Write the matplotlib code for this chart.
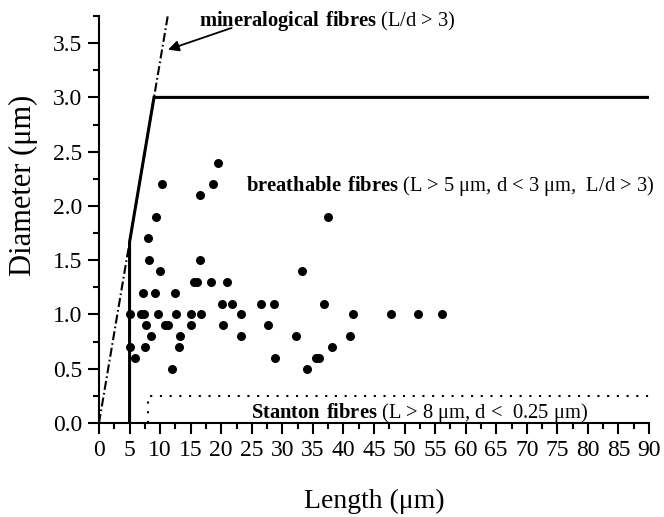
import matplotlib
matplotlib.use("Agg")
import matplotlib.pyplot as plt
import numpy as np

# ---- data ----
length_um = [5.1, 5.1, 5.9, 6.8, 7.3, 7.2, 7.5, 7.7, 8.0, 8.1, 8.5, 9.1, 9.4, 9.7,
             9.9, 10.3, 10.8, 11.3, 12.0, 12.5, 12.6, 13.1, 13.3, 15.0, 15.0, 15.6,
             16.0, 16.5, 16.5, 16.7, 18.4, 18.7, 19.5, 20.2, 20.3, 21.0, 21.8, 23.3,
             23.3, 26.5, 27.6, 28.6, 28.8, 32.2, 33.2, 34.0, 35.5, 36.0, 36.8, 37.5,
             38.2, 41.1, 41.6, 47.8, 52.2, 56.1]
diameter_um = [1.0, 0.7, 0.6, 1.0, 1.0, 1.2, 0.7, 0.9, 1.7, 1.5, 0.8, 1.2, 1.9, 1.0,
               1.4, 2.2, 0.9, 0.9, 0.5, 1.2, 1.0, 0.7, 0.8, 1.0, 0.9, 1.3,
               1.3, 1.5, 2.1, 1.0, 1.3, 2.2, 2.4, 1.1, 0.9, 1.3, 1.1, 1.0,
               0.8, 1.1, 0.9, 1.1, 0.6, 0.8, 1.4, 0.5, 0.6, 0.6, 1.1, 1.9,
               0.7, 0.8, 1.0, 1.0, 1.0, 1.0]

# boundary lines
mineral_L = [0, 11.25]
mineral_d = [0, 3.75]
breath_L = [5, 5, 9, 90]
breath_d = [0, 5 / 3, 3, 3]
stanton_L = [8, 8, 90]
stanton_d = [0, 0.25, 0.25]

xticks = list(range(0, 91, 5))
yticks = [0.0, 0.5, 1.0, 1.5, 2.0, 2.5, 3.0, 3.5]

plt.rcParams['font.family'] = ['Liberation Serif', 'DejaVu Serif']
plt.rcParams['mathtext.fontset'] = 'custom'
plt.rcParams['mathtext.rm'] = 'Liberation Serif'
plt.rcParams['mathtext.bf'] = 'Liberation Serif:bold'
plt.rcParams['lines.scale_dashes'] = False

fig = plt.figure(figsize=(6.64, 5.17), dpi=100)
ax = fig.add_axes([99 / 664, 1 - 423 / 517, 550 / 664, 407 / 517])

ax.plot(mineral_L, mineral_d, color='black', lw=1.5,
        dashes=(6.5, 2.2, 1.2, 2.2), solid_capstyle='butt')
ax.plot(breath_L, breath_d, color='black', lw=2.2, solid_joinstyle='miter')
ax.plot(stanton_L, stanton_d, color='black', lw=1.5, dashes=(1.5, 5.5))
ax.scatter(length_um, diameter_um, s=42, color='black', zorder=3, linewidths=0)

ax.set_xlim(0, 90)
ax.set_ylim(0, 3.75)
ax.set_xticks(xticks)
ax.set_xticks(np.arange(0, 90.1, 2.5), minor=True)
ax.set_yticks(yticks)
ax.set_yticks(np.arange(0, 3.76, 0.25), minor=True)
ax.set_yticklabels([f"{v:.1f}" for v in yticks])

for s in ['top', 'right']:
    ax.spines[s].set_visible(False)
for s in ['left', 'bottom']:
    ax.spines[s].set_linewidth(1.5)
ax.tick_params(which='major', length=8, width=1.5, labelsize=17, pad=4, direction='out')
ax.tick_params(which='minor', length=4.5, width=1.5, direction='out')

ax.set_xlabel('Length (μm)', fontsize=20, labelpad=20)
ax.set_ylabel('Diameter (μm)', fontsize=22)
ax.yaxis.set_label_coords(-0.110, 0.585)

fs = 14.8
ax.annotate('', xy=(11.3, 3.44), xytext=(21.7, 3.64),
            arrowprops=dict(arrowstyle='-|>', lw=1.3, color='black',
                            mutation_scale=16, shrinkA=0, shrinkB=0))
ax.text(16.4, 3.66, r'$\mathbf{mineralogical\ fibres}$ (L/d > 3)', fontsize=fs, va='baseline')
ax.text(24.0, 2.14, r'$\mathbf{breathable\ fibres}$ (L > 5 μm, d < 3 μm,  L/d > 3)',
        fontsize=fs, va='baseline')
ax.text(24.9, 0.045, r'$\mathbf{Stanton\ fibres}$ (L > 8 μm, d <  0.25 μm)',
        fontsize=fs, va='baseline')

fig.savefig('out.png', dpi=100)
